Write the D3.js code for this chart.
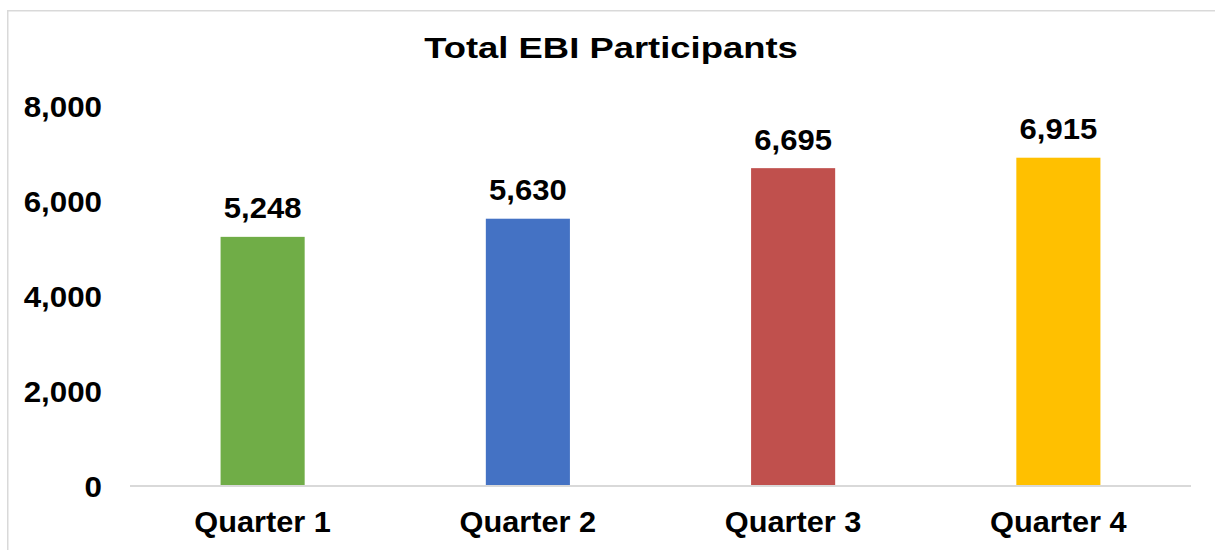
<!DOCTYPE html>
<html>
<head>
<meta charset="utf-8">
<script src="https://cdn.jsdelivr.net/npm/d3@7"></script>
<style>
  html, body { margin: 0; padding: 0; background: #fff; }
  svg { display: block; }
  text { font-family: "Liberation Sans", Arial, sans-serif; font-weight: bold; fill: #000; }
</style>
</head>
<body>
<svg id="chart" width="1215" height="550"></svg>
<script>
// ---- data ----
const title = "Total EBI Participants";
const categories = ["Quarter 1", "Quarter 2", "Quarter 3", "Quarter 4"];
const values = [5248, 5630, 6695, 6915];
const barColors = ["#70ad47", "#4472c4", "#c0504d", "#ffc000"];
const yTicks = [0, 2000, 4000, 6000, 8000];

// ---- layout ----
const W = 1215, H = 550;
const plot = { left: 130, right: 1191, top: 106.2, bottom: 486 };
const svg = d3.select("#chart");

svg.append("rect").attr("x", 0).attr("y", 0).attr("width", W).attr("height", H).attr("fill", "#fff");
// outer chart border (extends past the visible area on right/bottom)
svg.append("rect")
  .attr("x", 7.75).attr("y", 10.75)
  .attr("width", W + 20).attr("height", H + 20)
  .attr("fill", "none").attr("stroke", "#d9d9d9").attr("stroke-width", 1.5);

const x = d3.scaleBand().domain(categories).range([plot.left, plot.right]).paddingInner(0.683).paddingOuter(0.3415);
const y = d3.scaleLinear().domain([0, 8000]).range([plot.bottom, plot.top]);

const fmt = d3.format(",");

function stretchedText(g, txt, px, py, size, sx, anchor) {
  return g.append("text")
    .attr("transform", `translate(${px},${py}) scale(${sx},1)`)
    .attr("text-anchor", anchor)
    .style("font-size", size + "px")
    .text(txt);
}

// title
stretchedText(svg, title, 611, 58.3, 29.5, 1.235, "middle");

// y tick labels
const yAxis = d3.axisLeft(y).tickValues(yTicks).tickFormat(fmt).tickSize(0).tickPadding(0);
const yg = svg.append("g").attr("transform", `translate(102,0)`).call(yAxis);
yg.select(".domain").remove();
yg.selectAll(".tick text")
  .attr("x", 0).attr("dy", null).attr("y", 10.2)
  .attr("fill", "#000")
  .style("font-family", '"Liberation Sans", Arial, sans-serif')
  .style("font-weight", "bold")
  .style("font-size", "29px")
  .attr("transform", "scale(1.08,1)");

// bars
svg.append("g").selectAll("rect")
  .data(values)
  .join("rect")
  .attr("x", (d, i) => x(categories[i]))
  .attr("width", x.bandwidth())
  .attr("y", d => y(d))
  .attr("height", d => y(0) - y(d))
  .attr("fill", (d, i) => barColors[i]);

// baseline axis
const xAxis = d3.axisBottom(x).tickSize(0).tickPadding(0);
const xg = svg.append("g").attr("transform", `translate(0,${plot.bottom})`).call(xAxis);
xg.select(".domain").attr("stroke", "#d9d9d9").attr("stroke-width", 2)
  .attr("d", `M${plot.left},0H${plot.right}`);
xg.selectAll(".tick text")
  .attr("y", 46.3).attr("dy", null)
  .attr("fill", "#000")
  .style("font-family", '"Liberation Sans", Arial, sans-serif')
  .style("font-weight", "bold")
  .style("font-size", "29px")
  .attr("transform", "scale(1.06,1)")
  .attr("x", 0);

// data labels
const lg = svg.append("g");
values.forEach((v, i) => {
  stretchedText(lg, fmt(v), x(categories[i]) + x.bandwidth() / 2, y(v) - 18.5, 29, 1.07, "middle");
});
</script>
</body>
</html>
